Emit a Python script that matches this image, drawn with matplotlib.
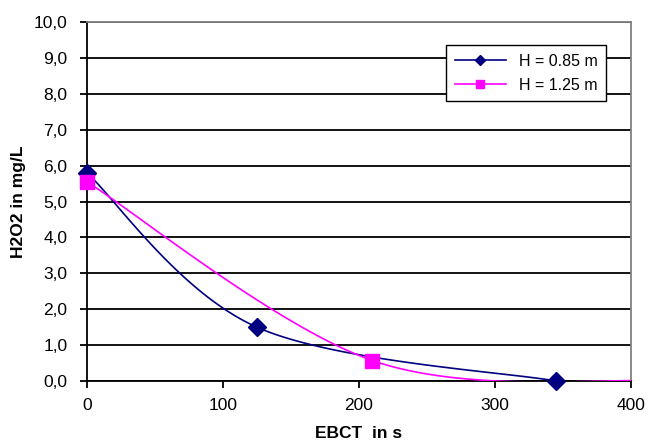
import numpy as np
import matplotlib
matplotlib.use("Agg")
import matplotlib.pyplot as plt
from matplotlib.lines import Line2D
from matplotlib.ticker import FuncFormatter

plt.rcParams['font.family'] = ['Liberation Sans', 'DejaVu Sans']

# data (EBCT in s, H2O2 in mg/L)
ebct_085 = [0, 125, 345]
h2o2_085 = [5.8, 1.5, 0.0]
ebct_125 = [0, 210, 420]
h2o2_125 = [5.55, 0.57, 0.0]
labels = ['H = 0.85 m', 'H = 1.25 m']

NAVY = '#000080'
MAGENTA = '#FF00FF'


def excel_smooth(xs, ys, n=60):
    # Excel-style smoothed line (bezier through points, tension 1/6)
    p = np.column_stack([xs, ys]).astype(float)
    out = []
    for i in range(len(p) - 1):
        p0 = p[i - 1] if i > 0 else p[i]
        p1 = p[i]
        p2 = p[i + 1]
        p3 = p[i + 2] if i + 2 < len(p) else p[i + 1]
        b1 = p1 + (p2 - p0) / 6
        b2 = p2 - (p3 - p1) / 6
        t = np.linspace(0, 1, n)[:, None]
        seg = (1 - t) ** 3 * p1 + 3 * (1 - t) ** 2 * t * b1 + 3 * (1 - t) * t ** 2 * b2 + t ** 3 * p2
        out.append(seg if i == 0 else seg[1:])
    c = np.vstack(out)
    return c[:, 0], c[:, 1]


fig = plt.figure(figsize=(6.49, 4.41), dpi=100)
ax = fig.add_axes([0.134, 0.136, 0.838, 0.814])

ax.set_xlim(0, 400)
ax.set_ylim(0, 10)
ax.set_yticks(np.arange(0, 11, 1))
ax.set_xticks(np.arange(0, 401, 100))
ax.yaxis.set_major_formatter(FuncFormatter(lambda v, p: f"{v:.1f}".replace('.', ',')))
ax.grid(axis='y', color='black', lw=1.3, zorder=0)
ax.set_axisbelow(True)

for s in ['top', 'right']:
    ax.spines[s].set_color('#808080')
    ax.spines[s].set_linewidth(1.3)
for s in ['left', 'bottom']:
    ax.spines[s].set_color('black')
    ax.spines[s].set_linewidth(1.3)
ax.tick_params(direction='out', length=5, width=1.3, labelsize=12.5, colors='black')
ax.tick_params(axis='y', pad=9)
ax.tick_params(axis='x', pad=7)

sx, sy = excel_smooth(ebct_085, h2o2_085)
ax.plot(sx, sy, color=NAVY, lw=1.2, zorder=3)
sx, sy = excel_smooth(ebct_125, h2o2_125)
ax.plot(sx, sy, color=MAGENTA, lw=1.2, zorder=3)

x1 = np.array(ebct_085); y1 = np.array(h2o2_085)
m = x1 <= 400
ax.plot(x1[m], y1[m], ls='none', marker='D', ms=9, color=NAVY, clip_on=False, zorder=4)
x2 = np.array(ebct_125); y2 = np.array(h2o2_125)
m = x2 <= 400
ax.plot(x2[m], y2[m], ls='none', marker='s', ms=10, color=MAGENTA, clip_on=False, zorder=5)

ax.set_xlabel('EBCT  in s', fontsize=12.5, fontweight='bold')
ax.set_ylabel('H2O2 in mg/L', fontsize=12.5, fontweight='bold')
ax.xaxis.set_label_coords(0.5, -0.125)
ax.yaxis.set_label_coords(-0.112, 0.5)

handles = [Line2D([], [], color=NAVY, lw=1.2, marker='D', ms=5),
           Line2D([], [], color=MAGENTA, lw=1.2, marker='s', ms=6)]
leg = ax.legend(handles, labels, loc='upper left', bbox_to_anchor=(0.66, 0.936),
                fontsize=11.5, frameon=True, fancybox=False, edgecolor='black',
                framealpha=1, borderpad=0.55, handlelength=3.2, labelspacing=0.55,
                borderaxespad=0)
leg.get_frame().set_linewidth(1.0)

fig.savefig('out.png', dpi=100)
